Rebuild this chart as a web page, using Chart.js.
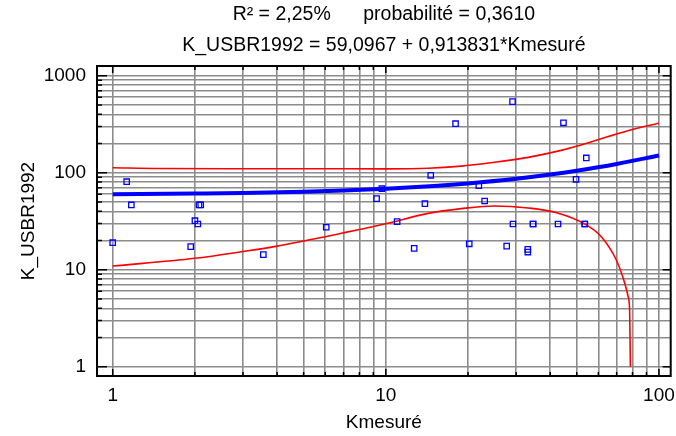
<!DOCTYPE html>
<html>
<head>
<meta charset="utf-8">
<script src="https://cdn.jsdelivr.net/npm/chart.js@4.4.1/dist/chart.umd.min.js"></script>
<style>
  html, body { margin: 0; padding: 0; background: #fff; }
  canvas { display: block; }
</style>
</head>
<body>
<canvas id="chart" width="676" height="436"></canvas>
<script>
// Observed points (Kmesuré vs K_USBR1992)
const kMesure = [1, 1.125, 1.17, 1.93, 2.0, 2.05, 2.07, 2.1, 3.56, 6.05, 9.25, 9.67, 11.0, 12.7, 13.9, 14.6, 18.0, 20.2,
  21.9, 23.0, 27.7, 29.1, 29.2, 33.1, 33.1, 34.6, 34.6, 42.7, 44.7, 49.7, 53.5, 53.5, 54.2]
const kUsbr = [19.0, 80.8, 46.5, 17.3, 32.0, 29.6, 46.5, 46.5, 14.3, 27.4, 54, 68.4, 31.3, 16.6, 47.9, 94, 320, 18.5,
  73.5, 51.1, 17.5, 540, 29.6, 16.2, 15.2, 29.6, 29.6, 29.6, 327, 85.5, 29.6, 29.6, 142]

// Fitted line
const fitX = [1, 2, 3, 5, 7, 10, 15, 20, 30, 40, 50, 70, 100]
const fitY = [60.0, 61.0, 61.8, 63.7, 65.5, 68.2, 72.8, 77.4, 86.5, 95.6, 104.8, 123.1, 150.5]

// Confidence limits
const upperX = [1, 1.5, 3, 5, 10, 14.3, 18.9, 25, 33.2, 44.6, 49.7, 59, 67.9, 78.1, 89.9, 100]
const upperY = [112.6, 110.5, 110, 110, 109.5, 111, 117, 128, 144, 172, 187, 216, 244, 274, 303, 323]
const lowerX = [1, 2, 3, 4, 5, 6, 7, 8, 10, 14.3, 18.9, 25, 33.2, 42.2, 53.5, 61.5, 69.8, 75, 77.1, 78.1, 78.6]
const lowerY = [10.9, 13.1, 15.4, 17.5, 19.8, 21.9, 24, 26, 29.8, 38.1, 42.6, 45.4, 43.3, 38.7, 29.6, 21.9, 12.6, 7.2, 5.3, 3.8, 1]

// Axes
const xGrid = [1, 2, 3, 4, 5, 6, 7, 8, 9, 10, 20, 30, 40, 50, 60, 70, 80, 90, 100]
const yGrid = [1, 2, 3, 4, 5, 6, 7, 8, 9, 10, 20, 30, 40, 50, 60, 70, 80, 90, 100,
  200, 300, 400, 500, 600, 700, 800, 900, 1000]
const xLabels = [1, 10, 100]
const yLabels = [1, 10, 100, 1000]
const titleLines = ['R\u00b2 = 2,25%      probabilit\u00e9 = 0,3610', 'K_USBR1992 = 59,0967 + 0,913831*Kmesur\u00e9']

const FONT = '"Liberation Sans", Arial, sans-serif'
const pairs = (xs, ys) => xs.map((x, i) => ({ x, y: ys[i] }))

// frame, inward ticks and the two title lines
const framePlugin = {
  id: 'frame',
  afterDraw(chart) {
    const { ctx, chartArea: a, scales: { x, y } } = chart
    ctx.save()
    ctx.strokeStyle = '#000'
    ctx.lineWidth = 2
    ctx.strokeRect(a.left, a.top, a.right - a.left, a.bottom - a.top)

    ctx.lineWidth = 1.5
    ctx.beginPath()
    xGrid.forEach(v => {
      const px = x.getPixelForValue(v)
      const len = xLabels.includes(v) ? 7 : 4
      ctx.moveTo(px, a.bottom); ctx.lineTo(px, a.bottom - len)
      ctx.moveTo(px, a.top); ctx.lineTo(px, a.top + len)
    })
    yGrid.forEach(v => {
      const py = y.getPixelForValue(v)
      const major = yLabels.includes(v)
      ctx.moveTo(a.left, py); ctx.lineTo(a.left + (major ? 10 : 5), py)
      if (major) { ctx.moveTo(a.right, py); ctx.lineTo(a.right - 8, py) }
    })
    ctx.stroke()

    ctx.fillStyle = '#000'
    ctx.font = '19.5px ' + FONT
    ctx.textAlign = 'center'
    ctx.textBaseline = 'middle'
    const cx = (a.left + a.right) / 2
    ctx.fillText(titleLines[0], cx, 15)
    ctx.fillText(titleLines[1], cx, 46)
    ctx.restore()
  }
}

new Chart(document.getElementById('chart'), {
  type: 'scatter',
  data: {
    datasets: [
      {
        label: 'Observations',
        data: pairs(kMesure, kUsbr),
        pointStyle: 'rect',
        pointRadius: 3.8,
        pointBorderWidth: 1.3,
        borderColor: '#0000ff',
        backgroundColor: 'rgba(255,255,255,0)',
      },
      {
        label: 'Ajustement',
        data: pairs(fitX, fitY),
        showLine: true,
        borderColor: '#0000ff',
        borderWidth: 4,
        pointRadius: 0,
        cubicInterpolationMode: 'monotone',
      },
      {
        label: 'Limite sup.',
        data: pairs(upperX, upperY),
        showLine: true,
        borderColor: '#ff0000',
        borderWidth: 1.6,
        pointRadius: 0,
        cubicInterpolationMode: 'monotone',
      },
      {
        label: 'Limite inf.',
        data: pairs(lowerX, lowerY),
        showLine: true,
        borderColor: '#ff0000',
        borderWidth: 1.6,
        pointRadius: 0,
        cubicInterpolationMode: 'monotone',
      }
    ]
  },
  options: {
    responsive: false,
    animation: false,
    layout: { padding: { top: 66, right: 5, left: 0, bottom: 0 } },
    scales: {
      x: {
        type: 'logarithmic',
        min: 0.876,
        max: 110.4,
        afterBuildTicks: (scale) => { scale.ticks = xGrid.map(v => ({ value: v })) },
        afterFit: (scale) => {
          scale.height = 60
          scale.paddingLeft = 0
          scale.paddingRight = 0
        },
        grid: { color: '#8c8c8c', lineWidth: 1.6, drawTicks: false },
        border: { display: false },
        ticks: {
          autoSkip: false,
          maxRotation: 0,
          padding: 8,
          color: '#000',
          font: { size: 19, family: FONT },
          callback: (v) => xLabels.includes(v) ? String(v) : ''
        },
        title: {
          display: true,
          text: 'Kmesur\u00e9',
          color: '#000',
          font: { size: 19, family: FONT },
          padding: { top: 0, bottom: 2 }
        }
      },
      y: {
        type: 'logarithmic',
        min: 0.802,
        max: 1259,
        afterBuildTicks: (scale) => { scale.ticks = yGrid.map(v => ({ value: v })) },
        afterFit: (scale) => {
          scale.width = 97
          scale.paddingTop = 0
          scale.paddingBottom = 0
        },
        grid: { color: '#8c8c8c', lineWidth: 1.6, drawTicks: false },
        border: { display: false },
        ticks: {
          autoSkip: false,
          padding: 11,
          color: '#000',
          font: { size: 19, family: FONT },
          callback: (v) => yLabels.includes(v) ? String(v) : ''
        },
        title: {
          display: true,
          text: 'K_USBR1992',
          color: '#000',
          font: { size: 19, family: FONT },
          padding: { top: 17, bottom: 0 }
        }
      }
    },
    plugins: {
      legend: { display: false },
      tooltip: { enabled: false }
    }
  },
  plugins: [framePlugin]
})
</script>
</body>
</html>
